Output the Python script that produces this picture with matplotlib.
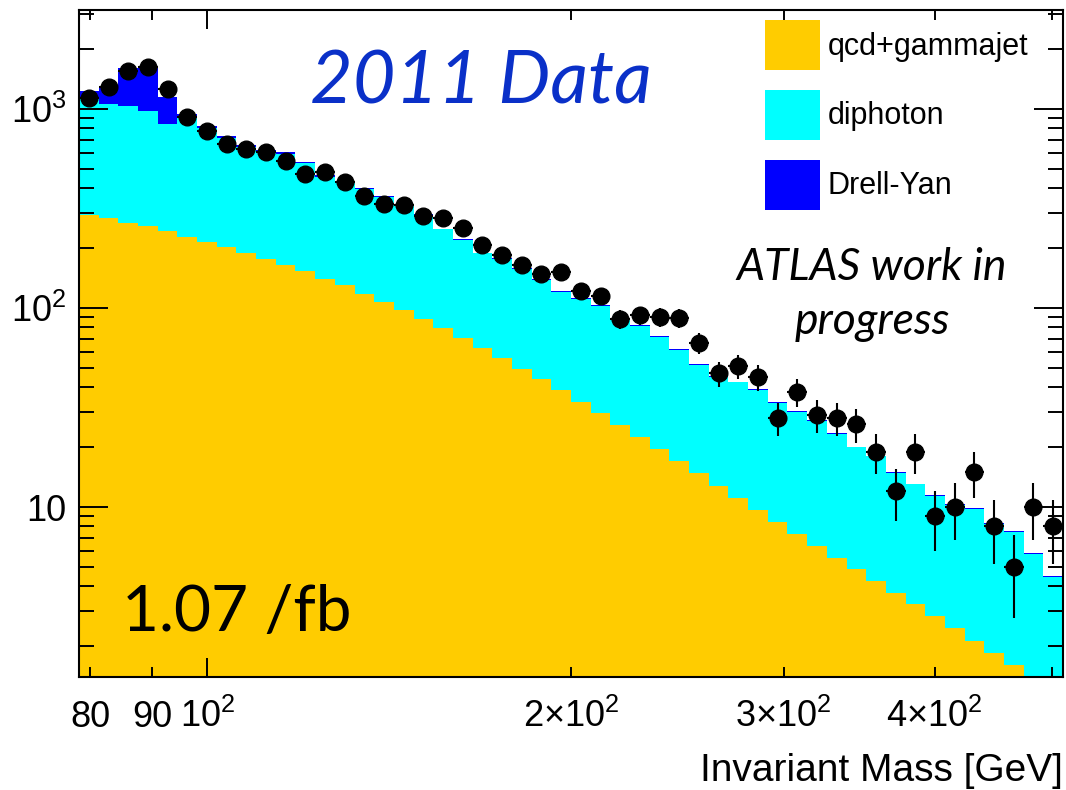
import numpy as np
import matplotlib
matplotlib.use("Agg")
import matplotlib.pyplot as plt
from matplotlib.patches import Patch
from matplotlib.ticker import FixedLocator, FixedFormatter, LogLocator, NullFormatter

plt.rcParams['font.family'] = ['Liberation Sans', 'DejaVu Sans']

# 50 log bins in invariant mass [GeV]
mass_lo, mass_hi, n_bins = 78.3, 511.0, 50
edges = np.geomspace(mass_lo, mass_hi, n_bins + 1)

# events per bin
qcd_gammajet = [295, 282, 269, 257, 243, 228, 215, 203, 190, 177,
                164, 153, 140, 130, 118, 107, 97.5, 88, 79, 71,
                63, 56, 49.6, 44, 38.9, 33.8, 29.6, 25.8, 22.5, 19.6,
                17.0, 14.8, 12.8, 11.1, 9.66, 8.41, 7.31, 6.38, 5.56, 4.88,
                4.24, 3.70, 3.24, 2.84, 2.47, 2.12, 1.84, 1.60, 1.35, 1.15]
diphoton = [845, 773, 766, 720, 598, 670, 585, 515, 457, 436,
            430, 380, 315, 294, 279, 256, 232, 205, 170, 150,
            125, 120, 107, 94, 81.6, 77, 72.4, 61, 59, 52.1,
            44.7, 37.2, 32.2, 31.2, 29.2, 25, 22.8, 20.8, 17.8, 15.1,
            13.8, 11.2, 9.76, 8.56, 7.83, 7.68, 6.36, 5.9, 4.49, 3.28]
drell_yan = [96, 255, 579, 656, 304, 46, 22, 17, 12, 12,
             11, 10, 11, 6, 5, 4, 3, 3, 2, 2,
             2, 2, 2, 1.5, 1, 1, 1, 1, 0.8, 0.7,
             0.6, 0.5, 0.4, 0.4, 0.3, 0.3, 0.2, 0.2, 0.2, 0.15,
             0.1, 0.1, 0.1, 0.1, 0.1, 0.08, 0.08, 0.05, 0.05, 0.05]
data = [1130, 1285, 1555, 1630, 1260, 910, 778, 667, 627, 610,
        545, 474, 484, 432, 367, 333, 329, 290, 285, 253,
        208, 184, 164, 148, 151, 122, 115, 88, 92, 90,
        89, 67, 47, 51, 45, 28, 38, 29, 28, 26,
        19, 12, 19, 9, 10, 15, 8, 5, 10, 8]

# stack
s_qcd = np.array(qcd_gammajet)
s_diph = s_qcd + np.array(diphoton)
s_all = s_diph + np.array(drell_yan)

c_qcd = '#FFCC00'
c_diph = '#00FFFF'
c_dy = '#0000FF'

fig = plt.figure(figsize=(10.66, 7.9), dpi=100)
ax = fig.add_axes([79/1066, 113/790, 984/1066, 667/790])

ax.stairs(s_all, edges, fill=True, color=c_dy, baseline=0.1)
ax.stairs(s_diph, edges, fill=True, color=c_diph, baseline=0.1)
ax.stairs(s_qcd, edges, fill=True, color=c_qcd, baseline=0.1)

# data points, poisson errors
centers = np.sqrt(edges[:-1] * edges[1:])
xerr = [centers - edges[:-1], edges[1:] - centers]
d = np.array(data, dtype=float)
ax.errorbar(centers, d, yerr=np.sqrt(d), xerr=xerr, fmt='o', color='black',
            ms=12, elinewidth=1.5, capsize=0, zorder=5)

ax.set_xscale('log')
ax.set_yscale('log')
ax.set_xlim(edges[0], edges[-1])
ax.set_ylim(1.4, 3145)

# x ticks root style
ax.xaxis.set_major_locator(FixedLocator([100]))
ax.xaxis.set_major_formatter(FixedFormatter([r'$\mathregular{10^{2}}$']))
ax.xaxis.set_minor_locator(FixedLocator([80, 90, 200, 300, 400, 500]))
ax.xaxis.set_minor_formatter(FixedFormatter(['80', '90', r'$\mathregular{2{\times}10^{2}}$',
                                             r'$\mathregular{3{\times}10^{2}}$',
                                             r'$\mathregular{4{\times}10^{2}}$', '']))
ax.yaxis.set_major_locator(FixedLocator([10, 100, 1000]))
ax.yaxis.set_major_formatter(FixedFormatter(['10', r'$\mathregular{10^{2}}$', r'$\mathregular{10^{3}}$']))
ax.yaxis.set_minor_locator(LogLocator(base=10, subs=np.arange(2, 10), numticks=20))
ax.yaxis.set_minor_formatter(NullFormatter())

ax.tick_params(which='both', direction='in', top=True, right=True, width=1.4, labelsize=26)
ax.tick_params(axis='y', which='major', length=21, pad=9)
ax.tick_params(axis='y', which='minor', length=11)
ax.tick_params(axis='x', which='major', length=14, pad=36)
ax.tick_params(axis='x', which='minor', length=7, pad=36)
for t in ax.get_xticklabels(which='both'):
    t.set_verticalalignment('baseline')
for s in ax.spines.values():
    s.set_linewidth(1.5)

handles = [Patch(facecolor=c_qcd, lw=0, label='qcd+gammajet'),
           Patch(facecolor=c_diph, lw=0, label='diphoton'),
           Patch(facecolor=c_dy, lw=0, label='Drell-Yan')]
ax.legend(handles=handles, loc='upper left', bbox_to_anchor=(0.697, 0.985),
          frameon=False, fontsize=22, handlelength=1.8, handleheight=2.14,
          labelspacing=0.65, handletextpad=0.26, borderpad=0, borderaxespad=0)

fig.text(481/1066, 1 - 103/790, '2011 Data', color='#0a30c8', fontsize=53,
         style='italic', family='Lato', ha='center', va='baseline')
fig.text(872/1066, 1 - 280/790, 'ATLAS work in', fontsize=32,
         style='italic', family='Lato', ha='center', va='baseline')
fig.text(872/1066, 1 - 334/790, 'progress', fontsize=32,
         style='italic', family='Lato', ha='center', va='baseline')
fig.text(122/1066, 1 - 631/790, '1.07 /fb', fontsize=46, family='Lato',
         ha='left', va='baseline')
fig.text(1063/1066, 1 - 781/790, 'Invariant Mass [GeV]', fontsize=28,
         ha='right', va='baseline')

fig.savefig('out.png', dpi=100)
